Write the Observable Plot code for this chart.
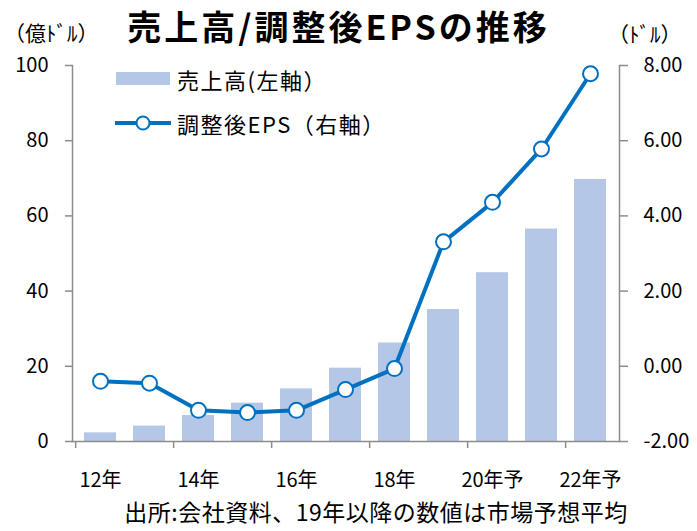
<!DOCTYPE html>
<html><head><meta charset="utf-8">
<script src="https://cdn.jsdelivr.net/npm/d3@7"></script>
<script src="https://cdn.jsdelivr.net/npm/@observablehq/plot@0.6"></script>
<style>
body{margin:0;background:#fff;font-family:"Noto Sans CJK JP","Noto Sans",sans-serif;}
#wrap{position:relative;width:697px;height:531px;overflow:hidden;}
.abs{position:absolute;white-space:nowrap;color:#000;line-height:1.45;}
</style></head>
<body><div id="wrap"></div>
<script>
const years = ["12","13","14","15","16","17","18","19","20","21","22"];
const sales = [2.3, 4.1, 6.9, 10.2, 14.0, 19.5, 26.2, 35.1, 44.9, 56.5, 69.7];
const eps = [-0.40, -0.45, -1.17, -1.23, -1.17, -0.62, -0.06, 3.31, 4.36, 5.78, 7.78];
const xTickYears = ["12","14","16","18","20","22"];
const xTickLabels = ["12年","14年","16年","18年","20年予","22年予"];
const leftTicks = [0,20,40,60,80,100];
const rightTicks = [-2,0,2,4,6,8];

const W = 697, H = 531, mL = 72, mR = 78, mT = 65, mB = 90;
// right axis (-2..8) mapped onto the left scale (0..100)
const toLeft = v => (v + 2) * 10;
const data = years.map((y,i) => ({year:y, sales:sales[i], eps:eps[i]}));
const step = (W - mL - mR) / years.length;
const grey = "#8c8c8c";

const chart = Plot.plot({
  width: W, height: H,
  marginLeft: mL, marginRight: mR, marginTop: mT, marginBottom: mB,
  style: {fontFamily: '"Noto Sans CJK JP","Noto Sans",sans-serif', fontSize: "20px", color: "#000", background: "transparent"},
  x: {type: "band", domain: years, paddingInner: 0.34, paddingOuter: 0.17, axis: null},
  y: {domain: [0, 100], axis: null},
  marks: [
    Plot.barY(data, {x: "year", y: "sales", fill: "#b4c7e7"}),
    Plot.frame({anchor: "left", stroke: grey, strokeWidth: 1.5}),
    Plot.frame({anchor: "right", stroke: grey, strokeWidth: 1.5}),
    Plot.frame({anchor: "bottom", stroke: grey, strokeWidth: 1.5}),
    Plot.axisY({anchor: "left", ticks: leftTicks, tickSize: 7, tickPadding: 17, stroke: grey, strokeWidth: 1.5, fontSize: 20, label: null}),
    Plot.axisY({anchor: "right", ticks: rightTicks.map(toLeft), tickFormat: d => (d / 10 - 2).toFixed(2), tickSize: 8, tickPadding: 16, stroke: grey, strokeWidth: 1.5, fontSize: 20, label: null}),
    Plot.axisX({ticks: xTickYears, tickSize: 7, text: null, dx: -step / 2, stroke: grey, strokeWidth: 1.5, label: null}),
    Plot.axisX({ticks: xTickYears, tickSize: 0, tickPadding: 31, tickFormat: d => xTickLabels[xTickYears.indexOf(d)], fontSize: 20, label: null}),
    Plot.line(data, {x: "year", y: d => toLeft(d.eps), stroke: "#0070c0", strokeWidth: 4}),
    Plot.dot(data, {x: "year", y: d => toLeft(d.eps), r: 7.5, fill: "#fff", stroke: "#0070c0", strokeWidth: 2})
  ]
});
const wrap = document.getElementById("wrap");
wrap.appendChild(chart);
chart.style.position = "absolute"; chart.style.left = "0"; chart.style.top = "0";

function addText(txt, css){ const d = document.createElement("div"); d.className = "abs"; d.textContent = txt; Object.assign(d.style, css); wrap.appendChild(d); return d; }
addText("売上高/調整後EPSの推移", {left:"0", width:"677px", textAlign:"center", top:"1px", fontSize:"34px", fontWeight:"700", letterSpacing:"3px"});
addText("（億ﾄﾞﾙ）", {left:"4px", top:"17px", fontSize:"21px"});
addText("（ﾄﾞﾙ）", {left:"608px", top:"18px", fontSize:"21px"});
addText("出所:会社資料、19年以降の数値は市場予想平均", {left:"55px", width:"642px", textAlign:"center", top:"495px", fontSize:"23px", letterSpacing:"0.5px"});

// legend
const leg = document.createElement("div");
leg.className = "abs";
leg.style.left = "114px"; leg.style.top = "66px";
leg.style.lineHeight = "1.3";
leg.innerHTML = `
<div style="display:flex;align-items:center;height:26px;">
  <svg width="58" height="16"><rect x="2" y="1" width="54" height="13" fill="#b4c7e7"/></svg>
  <span style="font-size:22px;margin-left:5px;letter-spacing:1.5px">売上高(左軸）</span>
</div>
<div style="display:flex;align-items:center;height:26px;margin-top:18px">
  <svg width="58" height="18"><line x1="1" x2="57" y1="9" y2="9" stroke="#0070c0" stroke-width="4"/><circle cx="29" cy="9" r="6.5" fill="#fff" stroke="#0070c0" stroke-width="2"/></svg>
  <span style="font-size:22px;margin-left:5px;letter-spacing:1.5px">調整後EPS（右軸）</span>
</div>`;
wrap.appendChild(leg);
</script></body></html>
